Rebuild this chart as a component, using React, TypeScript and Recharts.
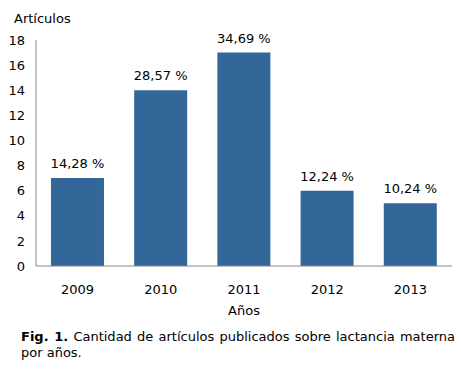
import React from 'react';
import { BarChart, Bar, XAxis, YAxis, LabelList } from 'recharts';

const years = ['2009', '2010', '2011', '2012', '2013'];
const articles = [7, 14, 17, 6, 5];
const percents = ['14,28 %', '28,57 %', '34,69 %', '12,24 %', '10,24 %'];
const yTicks = [0, 2, 4, 6, 8, 10, 12, 14, 16, 18];

const data = years.map((year, i) => ({ year, value: articles[i], pct: percents[i] }));

const FONT = '"DejaVu Sans", Verdana, sans-serif';

// draw the percent above the bar without wrapping
const renderPct = (props: any) => {
  const { x, y, width, value } = props;
  return (
    <text x={Number(x) + Number(width) / 2} y={Number(y) - 10} textAnchor="middle" fill="#000" fontSize={13} fontFamily={FONT}>
      {value}
    </text>
  );
};

export default function App() {
  return (
    <div style={{ position: 'absolute', left: 0, top: 0, width: 461, height: 379, background: '#fff', fontFamily: FONT }}>
      <BarChart
        width={461}
        height={379}
        data={data}
        margin={{ top: 40, right: 9, left: 0, bottom: 83 }}
        barCategoryGap="18%"
      >
        <XAxis
          dataKey="year"
          height={30}
          tickLine={false}
          axisLine={{ stroke: '#868686' }}
          tickMargin={13}
          tick={{ fill: '#000', fontSize: 13, fontFamily: FONT }}
        />
        <YAxis
          width={36}
          domain={[0, 18]}
          ticks={yTicks}
          interval={0}
          tickLine={false}
          axisLine={{ stroke: '#868686' }}
          tickMargin={5}
          tick={{ fill: '#000', fontSize: 13, fontFamily: FONT }}
        />
        <Bar dataKey="value" fill="#336699" isAnimationActive={false}>
          <LabelList dataKey="pct" content={renderPct} />
        </Bar>
      </BarChart>
      <div style={{ position: 'absolute', left: 14, top: 11, fontSize: 13 }}>Artículos</div>
      <div style={{ position: 'absolute', left: 36, width: 416, top: 303, fontSize: 13, textAlign: 'center' }}>Años</div>
      <div style={{ position: 'absolute', left: 21, width: 434, top: 329, fontSize: 13, lineHeight: '16px', color: '#000' }}>
        <div style={{ textAlign: 'justify', textAlignLast: 'justify' }}>
          <b>Fig. 1.</b> Cantidad de artículos publicados sobre lactancia materna
        </div>
        <div>por años.</div>
      </div>
    </div>
  );
}
